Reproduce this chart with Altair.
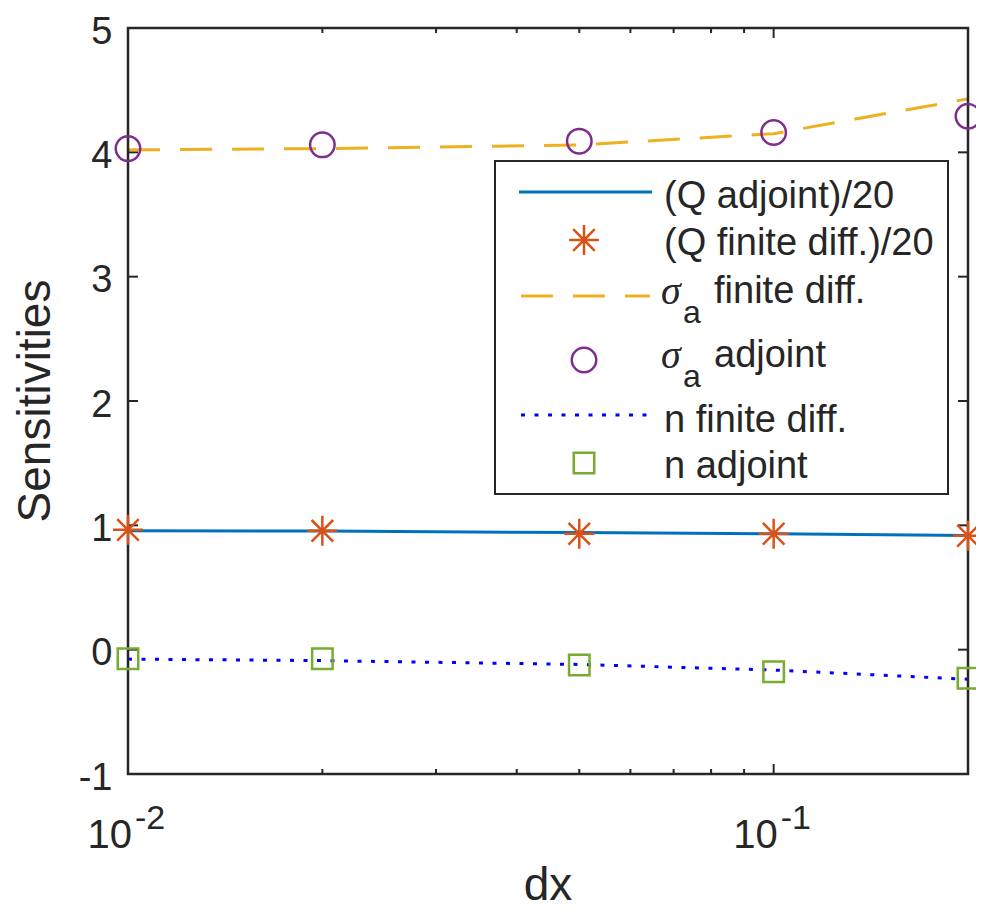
import altair as alt
import pandas as pd

# ---- data ----
dx = [0.01, 0.02, 0.05, 0.1, 0.2]
q_adjoint = [0.957, 0.954, 0.942, 0.932, 0.919]
q_finite = [0.964, 0.956, 0.932, 0.932, 0.916]
sigma_finite = [4.02, 4.03, 4.06, 4.15, 4.43]
sigma_adjoint = [4.03, 4.06, 4.09, 4.16, 4.29]
n_finite = [-0.076, -0.088, -0.119, -0.164, -0.238]
n_adjoint = [-0.074, -0.074, -0.124, -0.178, -0.230]

y_ticks = [-1, 0, 1, 2, 3, 4, 5]
x_major = [0.01, 0.1]
x_major_base = ["10", "10"]
x_major_exp = ["-2", "-1"]
x_minor = [0.02, 0.03, 0.04, 0.05, 0.06, 0.07, 0.08, 0.09]

legend_labels = ["(Q adjoint)/20", "(Q finite diff.)/20", "finite diff.",
                 "adjoint", "n finite diff.", "n adjoint"]

# ---- styling ----
W, H = 840, 746
INK = "#262626"
FONT = "Liberation Sans"
C_QADJ = "#0072BD"
C_QFD = "#D95319"
C_SFD = "#EDB120"
C_SADJ = "#7E2F8E"
C_NFD = "#0000FF"
C_NADJ = "#77AC30"
ASTERISK = "M-1,0L1,0M0,-1L0,1M-0.72,-0.72L0.72,0.72M-0.72,0.72L0.72,-0.72"

df = pd.DataFrame({
    "dx": dx, "q_adj": q_adjoint, "q_fd": q_finite,
    "s_fd": sigma_finite, "s_adj": sigma_adjoint,
    "n_fd": n_finite, "n_adj": n_adjoint,
})

xs = alt.Scale(type="log", domain=[0.01, 0.2], nice=False)
ys = alt.Scale(domain=[-1, 5], nice=False, zero=False)
yaxis = alt.Axis(values=y_ticks, ticks=False, tickSize=0, domain=False, grid=False,
                 labelFontSize=38, labelFont=FONT, labelColor=INK,
                 labelPadding=16, labelOffset=4, title=None,
                 labelExpr="'' + datum.value")

X = alt.X("dx:Q", scale=xs, axis=None)


def Y(field):
    return alt.Y(field + ":Q", scale=ys, axis=yaxis)


base = alt.Chart(df)

q_line = base.mark_line(color=C_QADJ, strokeWidth=3).encode(x=X, y=Y("q_adj"))
q_pts = base.mark_point(shape=ASTERISK, filled=False, color=C_QFD, strokeWidth=2.5,
                        size=900, opacity=1).encode(x=X, y=Y("q_fd"))
s_line = base.mark_line(color=C_SFD, strokeWidth=3, strokeDash=[32, 20]).encode(x=X, y=Y("s_fd"))
s_pts = base.mark_point(shape="circle", filled=False, color=C_SADJ, strokeWidth=2.5,
                        size=600, opacity=1).encode(x=X, y=Y("s_adj"))
n_line = base.mark_line(color=C_NFD, strokeWidth=3, strokeDash=[4, 9.5]).encode(x=X, y=Y("n_fd"))
n_pts = base.mark_point(shape="square", filled=False, color=C_NADJ, strokeWidth=2.5,
                        size=420, opacity=1).encode(x=X, y=Y("n_adj"))

# ---- inward ticks (MATLAB style box) ----
yt = alt.Chart(pd.DataFrame({"v": y_ticks}))
yt_left = yt.mark_rule(color=INK, strokeWidth=2).encode(
    y=alt.Y("v:Q", scale=ys, axis=yaxis), x=alt.value(0), x2=alt.value(10))
yt_right = yt.mark_rule(color=INK, strokeWidth=2).encode(
    y=alt.Y("v:Q", scale=ys, axis=yaxis), x=alt.value(W - 10), x2=alt.value(W))

xmaj_df = pd.DataFrame({"v": x_major, "base": x_major_base, "exp": x_major_exp})
xmaj = alt.Chart(xmaj_df)
xt_bot = xmaj.mark_rule(color=INK, strokeWidth=2).encode(
    x=alt.X("v:Q", scale=xs, axis=None), y=alt.value(H), y2=alt.value(H - 10))
xt_top = xmaj.mark_rule(color=INK, strokeWidth=2).encode(
    x=alt.X("v:Q", scale=xs, axis=None), y=alt.value(0), y2=alt.value(10))
xmin = alt.Chart(pd.DataFrame({"v": x_minor}))
xm_bot = xmin.mark_rule(color=INK, strokeWidth=2).encode(
    x=alt.X("v:Q", scale=xs, axis=None), y=alt.value(H), y2=alt.value(H - 5))
xm_top = xmin.mark_rule(color=INK, strokeWidth=2).encode(
    x=alt.X("v:Q", scale=xs, axis=None), y=alt.value(0), y2=alt.value(5))

xl_base = xmaj.mark_text(align="right", baseline="alphabetic", fontSize=40, font=FONT,
                         color=INK, dx=4).encode(
    x=alt.X("v:Q", scale=xs, axis=None), y=alt.value(H + 74), text="base:N")
xl_exp = xmaj.mark_text(align="left", baseline="alphabetic", fontSize=34, font=FONT,
                        color=INK, dx=7).encode(
    x=alt.X("v:Q", scale=xs, axis=None), y=alt.value(H + 55), text="exp:N")

# ---- axis titles & frame ----
one = alt.Chart(pd.DataFrame({"k": [0]}))
frame = one.mark_rect(filled=False, color=INK, strokeWidth=2.5).encode(
    x=alt.value(0), x2=alt.value(W), y=alt.value(0), y2=alt.value(H))
x_title = one.mark_text(text="dx", align="center", baseline="alphabetic", fontSize=46,
                        font=FONT, color=INK).encode(x=alt.value(W / 2), y=alt.value(H + 126))
y_title = one.mark_text(text="Sensitivities", align="center", baseline="alphabetic",
                        angle=270, fontSize=46, font=FONT, color=INK).encode(
    x=alt.value(-78), y=alt.value(H / 2))

# ---- legend ----
LX0, LX1, LY0, LY1 = 367, 820, 133, 466
leg_box = one.mark_rect(fill="white", stroke=INK, strokeWidth=2).encode(
    x=alt.value(LX0), x2=alt.value(LX1), y=alt.value(LY0), y2=alt.value(LY1))
sym_x = 456
txt_x = 536
leg_l1 = one.mark_rule(color=C_QADJ, strokeWidth=3).encode(
    x=alt.value(391), x2=alt.value(524), y=alt.value(164))
leg_p2 = one.mark_point(shape=ASTERISK, filled=False, color=C_QFD, strokeWidth=2.5,
                        size=900, opacity=1).encode(x=alt.value(sym_x), y=alt.value(212))
leg_l3 = one.mark_rule(color=C_SFD, strokeWidth=3, strokeDash=[32, 20]).encode(
    x=alt.value(393), x2=alt.value(522), y=alt.value(268))
leg_p4 = one.mark_point(shape="circle", filled=False, color=C_SADJ, strokeWidth=2.5,
                        size=600, opacity=1).encode(x=alt.value(sym_x), y=alt.value(332))
leg_l5 = one.mark_rule(color=C_NFD, strokeWidth=3, strokeDash=[4, 9.5]).encode(
    x=alt.value(393), x2=alt.value(522), y=alt.value(387))
leg_p6 = one.mark_point(shape="square", filled=False, color=C_NADJ, strokeWidth=2.5,
                        size=420, opacity=1).encode(x=alt.value(sym_x), y=alt.value(435))


def ltext(s, x, y, size=38, font=FONT, style="normal"):
    return one.mark_text(text=s, align="left", baseline="alphabetic", fontSize=size,
                         font=font, fontStyle=style, color=INK).encode(
        x=alt.value(x), y=alt.value(y))


leg_texts = [
    ltext(legend_labels[0], txt_x, 180),
    ltext(legend_labels[1], txt_x, 227),
    ltext("σ", 533, 276, size=40, font="Liberation Serif", style="italic"),
    ltext("a", 555, 295, size=32),
    ltext(legend_labels[2], 586, 275),
    ltext("σ", 533, 340, size=40, font="Liberation Serif", style="italic"),
    ltext("a", 555, 359, size=32),
    ltext(legend_labels[3], 586, 339),
    ltext(legend_labels[4], txt_x, 404),
    ltext(legend_labels[5], txt_x, 450),
]

chart = alt.layer(
    yt_left, yt_right, xt_bot, xt_top, xm_bot, xm_top,
    q_line, s_line, n_line, frame, q_pts, s_pts, n_pts,
    xl_base, xl_exp, x_title, y_title,
    leg_box, leg_l1, leg_p2, leg_l3, leg_p4, leg_l5, leg_p6, *leg_texts,
).properties(
    width=W, height=H,
    padding={"left": 120, "top": 20, "right": 8, "bottom": 138},
    autosize=alt.AutoSizeParams(type="none"),
).configure_view(stroke=None).configure(background="white")

chart.save("out.html", embed_options={"renderer": "svg", "actions": False})
